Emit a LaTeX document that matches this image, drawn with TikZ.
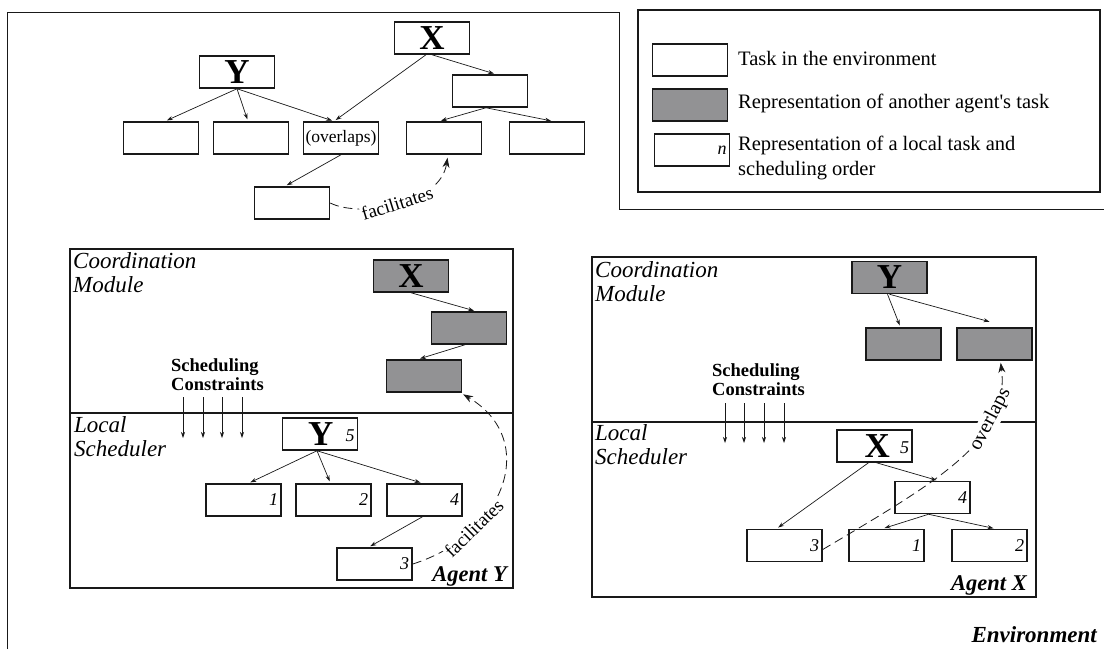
\documentclass[tikz,border=0pt]{standalone}
\usepackage{fontspec}
\setmainfont{Liberation Serif}
\usetikzlibrary{arrows.meta}
\definecolor{ink}{RGB}{25,25,25}
\definecolor{shade}{RGB}{146,146,148}
\newcommand\LetterFont{\fontsize{35}{35}\selectfont\bfseries}
\begin{document}
\begin{tikzpicture}[x=1pt,y=-1pt,
  box/.style={draw=ink,line width=1.5pt,fill=white,minimum width=75pt,minimum height=32pt,inner sep=0pt},
  ghost/.style={box,fill=shade},
  local/.style={box,text width=69pt,align=right,inner sep=3pt,font=\fontsize{18}{18}\selectfont\itshape},
  frame/.style={draw=ink,line width=1.2pt},
  link/.style={draw=ink,line width=0.7pt,-{Stealth[length=6pt,width=4pt]},shorten >=2pt},
  dashlink/.style={draw=ink,line width=0.8pt,dash pattern=on 9pt off 5pt,-{Stealth[length=10pt,width=7pt]}},
  curvelabel/.style={sloped,fill=white,inner sep=1pt,font=\fontsize{19}{19}\selectfont},
  legendtext/.style={anchor=west,inner sep=0pt,font=\fontsize{20.5}{25}\selectfont,align=left},
  modtext/.style={anchor=north west,inner sep=0pt,align=left,font=\fontsize{23}{24}\selectfont\itshape},
  constr/.style={anchor=north west,inner sep=0pt,align=left,font=\fontsize{18.5}{19.5}\selectfont\bfseries},
  agent/.style={anchor=base east,inner sep=0pt,font=\fontsize{22.5}{22.5}\selectfont\bfseries\itshape},
  sched/.style={draw=ink,line width=0.7pt,-{Stealth[length=6pt,width=4pt]}}
]
\useasboundingbox (0,0) rectangle (1104,649);

% environment outline
\draw[frame,line width=1pt] (7,649) -- (7,12) -- (619,12) -- (619,209) -- (1104,209);
\node[agent,font=\fontsize{23}{23}\selectfont\bfseries\itshape] (env) at (1097,642) {Environment};

% legend
\draw[frame] (638,10) rectangle (1100,192);
\node[box] (lg1) at (690,60) {};
\node[ghost] (lg2) at (690,105) {};
\node[local] (lg3) at (692,150) {n};
\node[legendtext] (lt1) at (738,58) {Task in the environment};
\node[legendtext] (lt2) at (738,103) {Representation of another agent\textquotesingle s task};
\node[legendtext,anchor=north west] (lt3) at (738,136) {Representation of a local task and\\scheduling order};

% task structure in the environment
\node[box] (tX) at (432,38) {\LetterFont X};
\node[box] (tY) at (237,72) {\LetterFont Y};
\node[box] (tXc) at (490,91) {};
\node[box] (t1) at (161,138) {};
\node[box] (t2) at (251,138) {};
\node[box,font=\fontsize{17.5}{18}\selectfont] (t3) at (341,138) {(overlaps)};
\node[box] (t4) at (444,138) {};
\node[box] (t5) at (547,138) {};
\node[box] (tB) at (292,203) {};
\draw[link] (tY.south) -- ([xshift=4pt]t1.north);
\draw[link] (tY.south) -- ([xshift=-3pt]t2.north);
\draw[link] (tY.south) -- ([xshift=-7pt]t3.north);
\draw[link] ([xshift=-6pt]tX.south) -- ([xshift=-7pt]t3.north);
\draw[link] (tX.south) -- ([xshift=6pt]tXc.north);
\draw[link] ([xshift=-4pt]tXc.south) -- ([xshift=-5pt]t4.north);
\draw[link] ([xshift=-4pt]tXc.south) -- ([xshift=6pt]t5.north);
\draw[link] (t3.south) -- ([xshift=-7pt]tB.north);
\draw[dashlink,shorten >=3pt] (tB.east) .. controls (360,218) and (440,205) .. ([xshift=4pt]t4.south)
  node[curvelabel,pos=0.5] (fac1) {facilitates};

% agent Y
\draw[frame] (70,249) rectangle (513,588);
\draw[frame] (70,413) -- (513,413);
\node[modtext] (cmY) at (73,252) {Coordination\\Module};
\node[modtext] (lsY) at (74,416) {Local\\Scheduler};
\node[constr] (scY) at (171,358) {Scheduling\\Constraints};
\foreach \i/\x in {1/183,2/203,3/222,4/242}{
  \coordinate (yu\i) at (\x,397);
  \coordinate (yd\i) at (\x,438);
  \draw[sched] (yu\i) -- (yd\i);
}
\node[ghost] (yX) at (411,276) {\LetterFont X};
\node[ghost] (yG2) at (469,328) {};
\node[ghost] (yG3) at (424,376) {};
\draw[link] (yX.south) -- ([xshift=7pt]yG2.north);
\draw[link] ([xshift=-4pt]yG2.south) -- ([xshift=-6pt]yG3.north);
\node[local] (yY) at (320,434) {\hfill{\LetterFont\upshape Y}\hspace{12pt}\raisebox{4pt}{5}};
\node[local] (y1) at (243.5,500) {1};
\node[local] (y2) at (333.5,500) {2};
\node[local] (y4) at (424.5,500) {4};
\node[local] (y3) at (374.5,564) {3};
\draw[link] ([xshift=-3pt]yY.south) -- ([xshift=5pt]y1.north);
\draw[link] ([xshift=-3pt]yY.south) -- ([xshift=-3pt]y2.north);
\draw[link] ([xshift=-3pt]yY.south) -- ([xshift=-2pt]y4.north);
\draw[link] ([xshift=-2pt]y4.south) -- ([xshift=-6pt]y3.north);
\draw[dashlink,shorten >=1pt] (y3.east) .. controls (505,535) and (540,440) .. ([yshift=-1pt]yG3.south east)
  node[curvelabel,pos=0.27] (fac2) {facilitates};
\node[agent] (agY) at (507,581) {Agent Y};

% agent X
\draw[frame] (592,257) rectangle (1036,597);
\draw[frame] (592,422) -- (1036,422);
\node[modtext] (cmX) at (595,261) {Coordination\\Module};
\node[modtext] (lsX) at (595,424) {Local\\Scheduler};
\node[constr] (scX) at (712,363) {Scheduling\\Constraints};
\foreach \i/\x in {1/725,2/744,3/764,4/784}{
  \coordinate (xu\i) at (\x,403);
  \coordinate (xd\i) at (\x,443);
  \draw[sched] (xu\i) -- (xd\i);
}
\node[ghost] (xY) at (889.5,277.5) {\LetterFont Y};
\node[ghost] (xG1) at (903.5,344) {};
\node[ghost] (xG2) at (994.5,344) {};
\draw[link] ([xshift=-2pt]xY.south) -- ([xshift=-3pt]xG1.north);
\draw[link] (xY.south) -- ([xshift=-3pt,yshift=5pt]xG2.north);
\node[local] (xX) at (874.5,446) {\hfill{\LetterFont\upshape X}\hspace{10pt}\raisebox{4pt}{5}};
\node[local] (x4) at (932.5,497.5) {4};
\node[local] (x3) at (784.5,545.5) {3};
\node[local] (x1) at (886.5,545.5) {1};
\node[local] (x2) at (989.5,545.5) {2};
\draw[link] ([xshift=-6pt]xX.south) -- ([xshift=-8pt]x3.north);
\draw[link] ([xshift=2pt]xX.south) -- ([xshift=6pt]x4.north);
\draw[link] ([xshift=-4pt]x4.south) -- ([xshift=-4pt]x1.north);
\draw[link] ([xshift=-4pt]x4.south) -- ([xshift=6pt]x2.north);
\draw[dashlink,shorten >=2pt] ([yshift=-4pt]x3.east) .. controls (940,480) and (1010,440) .. ([xshift=6pt]xG2.south)
  node[curvelabel,pos=0.72,font=\fontsize{20}{20}\selectfont] (ovl) {overlaps};
\node[agent] (agX) at (1027,590) {Agent X};
\end{tikzpicture}
\end{document}
